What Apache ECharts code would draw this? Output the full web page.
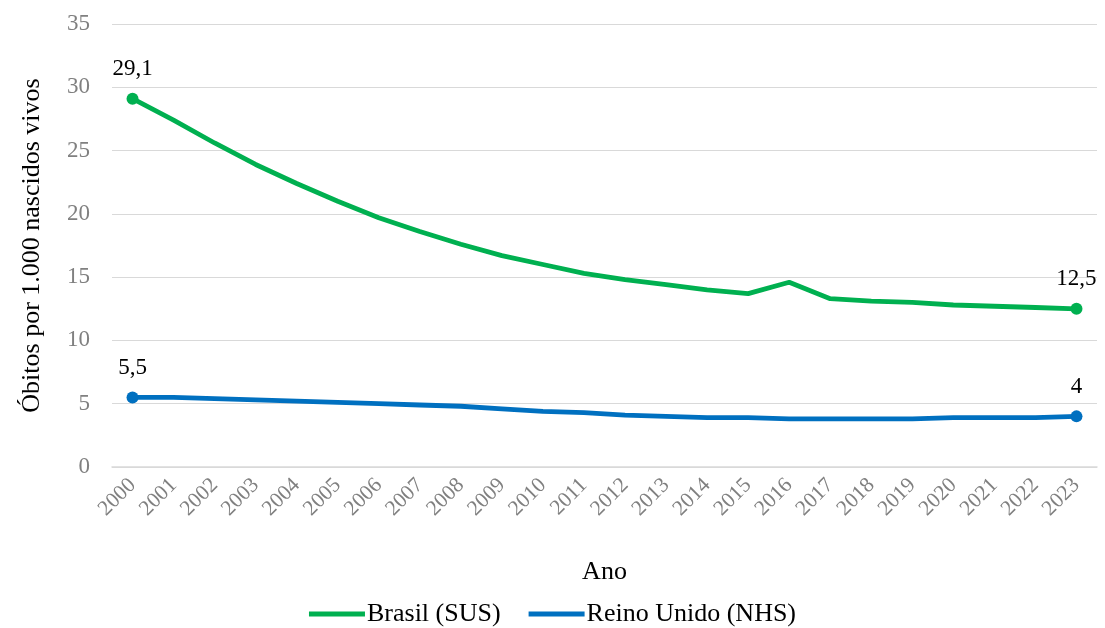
<!DOCTYPE html>
<html>
<head>
<meta charset="utf-8">
<script src="https://cdn.jsdelivr.net/npm/echarts@6/dist/echarts.min.js"></script>
<style>
  html, body { margin: 0; padding: 0; background: #fff; }
  #main { width: 1105px; height: 628px; }
</style>
</head>
<body>
<div id="main"></div>
<script>
// dados
var anos = ['2000', '2001', '2002', '2003', '2004', '2005', '2006', '2007', '2008', '2009', '2010', '2011',
  '2012', '2013', '2014', '2015', '2016', '2017', '2018', '2019', '2020', '2021', '2022', '2023'];
var brasil = [29.1, 27.4, 25.6, 23.9, 22.4, 21.0, 19.7, 18.6, 17.6, 16.7, 16.0, 15.3,
  14.8, 14.4, 14.0, 13.7, 14.6, 13.3, 13.1, 13.0, 12.8, 12.7, 12.6, 12.5];
var reinoUnido = [5.5, 5.5, 5.4, 5.3, 5.2, 5.1, 5.0, 4.9, 4.8, 4.6, 4.4, 4.3,
  4.1, 4.0, 3.9, 3.9, 3.8, 3.8, 3.8, 3.8, 3.9, 3.9, 3.9, 4.0];
var yTicks = { min: 0, max: 35, interval: 5 };

var fonte = 'Liberation Serif';

function pontas(arr) {
  // marca e rótulo só no primeiro e no último ponto
  return arr.map(function (v, i) {
    if (i === 0 || i === arr.length - 1) {
      return { value: v, symbolSize: 12, label: { show: true } };
    }
    return { value: v, symbolSize: 0 };
  });
}

function serie(nome, cor, dados) {
  return {
    name: nome,
    type: 'line',
    data: pontas(dados),
    symbol: 'circle',
    showSymbol: true,
    lineStyle: { color: cor, width: 4.8 },
    itemStyle: { color: cor },
    label: {
      show: false,
      position: 'top',
      distance: 12,
      color: '#000',
      fontFamily: fonte,
      fontSize: 23,
      formatter: function (p) { return String(p.value).replace('.', ','); }
    },
    emphasis: { disabled: true }
  };
}

var chart = echarts.init(document.getElementById('main'));
chart.setOption({
  animation: false,
  textStyle: { fontFamily: fonte },
  grid: { left: 112, right: 8, top: 24, bottom: 161 },
  legend: {
    bottom: -4,
    left: 'center',
    icon: 'rect',
    itemWidth: 56,
    itemHeight: 5,
    itemGap: 28,
    textStyle: { fontFamily: fonte, fontSize: 26, color: '#000', padding: [0, 0, 0, -3] },
    data: ['Brasil (SUS)', 'Reino Unido (NHS)']
  },
  xAxis: {
    type: 'category',
    data: anos,
    name: 'Ano',
    nameLocation: 'middle',
    nameGap: 92,
    nameTextStyle: { fontFamily: fonte, fontSize: 26, color: '#000' },
    axisLine: { lineStyle: { color: '#d9d9d9', width: 1.5 } },
    axisTick: { show: false },
    axisLabel: { rotate: 45, margin: 15, color: '#808080', fontFamily: fonte, fontSize: 21.5 }
  },
  yAxis: {
    type: 'value',
    min: yTicks.min,
    max: yTicks.max,
    interval: yTicks.interval,
    name: 'Óbitos por 1.000 nascidos vivos',
    nameLocation: 'middle',
    nameGap: 67,
    nameTextStyle: { fontFamily: fonte, fontSize: 26, color: '#000' },
    axisLine: { show: false },
    axisTick: { show: false },
    axisLabel: { margin: 22, color: '#808080', fontFamily: fonte, fontSize: 23 },
    splitLine: { lineStyle: { color: '#d9d9d9', width: 1.2 } }
  },
  series: [
    serie('Brasil (SUS)', '#00B050', brasil),
    serie('Reino Unido (NHS)', '#0070C0', reinoUnido)
  ]
});
</script>
</body>
</html>
